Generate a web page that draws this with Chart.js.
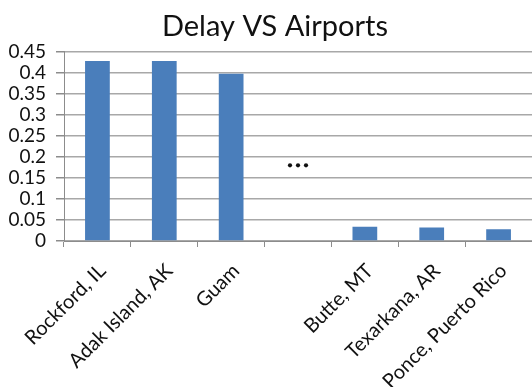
<!DOCTYPE html>
<html>
<head>
<meta charset="utf-8">
<script src="https://cdn.jsdelivr.net/npm/chart.js@4"></script>
<style>
  body { margin: 0; background: #fff; }
  #chart { display: block; }
</style>
</head>
<body>
<canvas id="chart" width="532" height="387"></canvas>
<script>
// airports with the largest and smallest delay ratio, gap slot in the middle
const airports = ["Rockford, IL", "Adak Island, AK", "Guam", "", "Butte, MT", "Texarkana, AR", "Ponce, Puerto Rico"];
const delays = [0.428, 0.428, 0.398, null, 0.034, 0.032, 0.028];
const yTicks = [0, 0.05, 0.1, 0.15, 0.2, 0.25, 0.3, 0.35, 0.4, 0.45];

// the "..." marker sits in the gap slot
const gapIndex = 3;
const gapLevel = 0.18;

const FONT = "Lato";
const GRID = "#a8a8a8";
const AXIS = "#8c8c8c";

const gapMarker = {
    id: "gapMarker",
    afterDatasetsDraw(chart) {
        const { ctx, scales } = chart;
        const x = scales.x.getPixelForValue(gapIndex);
        const y = scales.y.getPixelForValue(gapLevel);
        ctx.save();
        ctx.fillStyle = "#111";
        for (let i = -1; i <= 1; i++) {
            ctx.beginPath();
            ctx.arc(x + i * 8, y, 2.1, 0, Math.PI * 2);
            ctx.fill();
        }
        ctx.restore();
    }
};

new Chart(document.getElementById("chart"), {
    type: "bar",
    data: {
        labels: airports,
        datasets: [{
            label: "Delay",
            data: delays,
            backgroundColor: "#4a7ebb",
            borderWidth: 0,
            categoryPercentage: 1,
            barPercentage: 0.37
        }]
    },
    options: {
        responsive: false,
        animation: false,
        // plot runs a little past the right edge
        layout: { padding: { left: 6, right: -12, top: 4, bottom: 0 } },
        plugins: {
            legend: { display: false },
            tooltip: { enabled: false },
            title: {
                display: true,
                text: "Delay VS Airports",
                color: "#111",
                font: { family: FONT, size: 29, weight: "normal" },
                padding: { top: 5, bottom: 8 }
            }
        },
        scales: {
            x: {
                offset: true,
                afterFit(axis) { axis.height = 146; },
                grid: {
                    offset: true,
                    drawOnChartArea: false,
                    drawTicks: true,
                    tickLength: 6,
                    color: AXIS
                },
                border: { color: AXIS },
                ticks: {
                    color: "#111",
                    font: { family: FONT, size: 20 },
                    maxRotation: 45,
                    minRotation: 45,
                    autoSkip: false,
                    padding: 12,
                    labelOffset: 5
                }
            },
            y: {
                min: 0,
                max: 0.45,
                afterBuildTicks(axis) {
                    axis.ticks = yTicks.map(v => ({ value: v }));
                },
                afterFit(axis) { axis.width = 58; },
                grid: {
                    color: GRID,
                    lineWidth: 1.5,
                    tickLength: 8,
                    tickColor: AXIS
                },
                border: { color: AXIS },
                ticks: {
                    color: "#111",
                    font: { family: FONT, size: 19 },
                    padding: 10,
                    autoSkip: false,
                    callback: v => String(+v.toFixed(2))
                }
            }
        }
    },
    plugins: [gapMarker]
});
</script>
</body>
</html>
